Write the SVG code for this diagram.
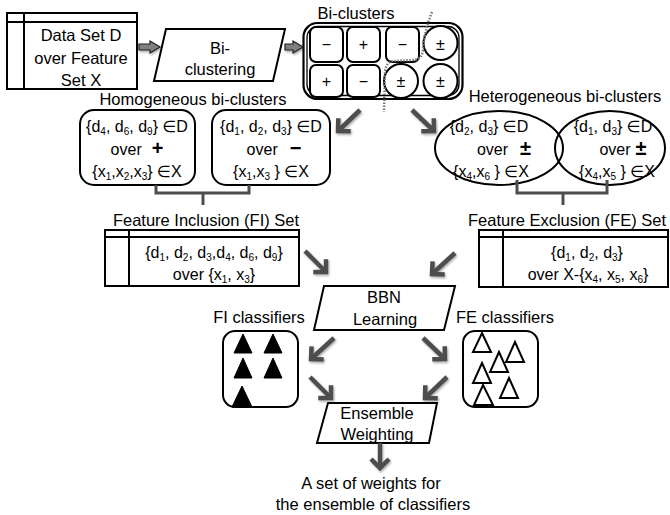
<svg xmlns="http://www.w3.org/2000/svg" width="670" height="515" viewBox="0 0 670 515">
<style>
text{font-family:"Liberation Sans",Arial,"DejaVu Sans",sans-serif;font-size:16px;fill:#000;text-anchor:middle}
.lbl{font-size:16.5px}
.s{font-size:10px}
.box{fill:#fff;stroke:#000;stroke-width:2}
.thin{fill:none;stroke:#000;stroke-width:2}
.arr{fill:none;stroke:#4d4d4d;stroke-width:4.5;marker-end:url(#chev)}
.brk{fill:none;stroke:#4d4d4d;stroke-width:3}
.blk{fill:#808080;stroke:#222;stroke-width:1.2}
.sym{font-size:20px;font-weight:bold}
.ftri{fill:#000;stroke:#000;stroke-width:1}
.otri{fill:#fff;stroke:#000;stroke-width:2}
</style>
<defs>
<marker id="chev" viewBox="-14 -14 28 28" markerWidth="28" markerHeight="28" refX="0" refY="0" orient="auto" markerUnits="userSpaceOnUse">
<path d="M-9,-9 L0,0 L-9,9" fill="none" stroke="#4d4d4d" stroke-width="4.5"/>
</marker>
<filter id="sh" x="-30%" y="-30%" width="160%" height="160%">
<feDropShadow dx="1" dy="1.5" stdDeviation="1.2" flood-color="#000" flood-opacity="0.35"/>
</filter>
</defs>

<g id="dataset">
<rect class="box" x="7" y="13" width="130" height="76"/>
<line class="thin" x1="7" y1="22" x2="137" y2="22"/>
<line class="thin" x1="24" y1="13" x2="24" y2="89"/>
<text class="lbl" x="81" y="41">Data Set D</text>
<text class="lbl" x="81" y="64">over Feature</text>
<text class="lbl" x="81" y="86">Set X</text>
</g>

<g id="biclustering">
<polygon class="box" points="166,29 285,29 273,81 154,81"/>
<text class="lbl" x="220" y="54">Bi-</text>
<text class="lbl" x="220" y="75">clustering</text>
</g>

<g id="biclusters">
<text class="lbl" x="356" y="19">Bi-clusters</text>
<rect x="303.5" y="23" width="159" height="76" rx="14" fill="#fff" stroke="#000" stroke-width="2.2"/>
<rect x="307" y="26.5" width="152" height="69" rx="11" fill="none" stroke="#000" stroke-width="1.3"/>
<rect class="box" x="310" y="27" width="33" height="35" rx="6"/>
<rect class="box" x="347" y="27" width="33" height="35" rx="6"/>
<rect class="box" x="386" y="27" width="33" height="35" rx="6"/>
<circle class="box" cx="440.5" cy="43" r="17"/>
<rect class="box" x="310" y="65" width="33" height="32" rx="6"/>
<rect class="box" x="347" y="65" width="33" height="32" rx="6"/>
<circle class="box" cx="401" cy="81" r="17"/>
<circle class="box" cx="440.5" cy="81" r="17"/>
<text x="326.5" y="50">−</text>
<text x="363.5" y="50">+</text>
<text x="402.5" y="50">−</text>
<text x="440.5" y="50">±</text>
<text x="326.5" y="87">+</text>
<text x="363.5" y="87">−</text>
<text x="401" y="87">±</text>
<text x="440.5" y="87">±</text>
<path d="M432,12 Q424,32 423,50 Q422,60 412,60 L393,61 Q386,62 385,72 L384,112" fill="none" stroke="#7a7a7a" stroke-width="2.5" stroke-dasharray="1.5,1.5"/>
</g>

<g id="homogeneous">
<text class="lbl" x="193" y="105">Homogeneous bi-clusters</text>
</g>

<g id="homog1">
<rect class="box" x="80" y="110" width="115" height="75" rx="14"/>
<text x="137" y="132">{d<tspan class="s" dy="3">4</tspan><tspan dy="-3">, d</tspan><tspan class="s" dy="3">6</tspan><tspan dy="-3">, d</tspan><tspan class="s" dy="3">9</tspan><tspan dy="-3">} ∈D</tspan></text>
<text x="137" y="155">over<tspan class="sym" dx="10">+</tspan></text>
<text x="137" y="177">{x<tspan class="s" dy="3">1</tspan><tspan dy="-3">,x</tspan><tspan class="s" dy="3">2</tspan><tspan dy="-3">,x</tspan><tspan class="s" dy="3">3</tspan><tspan dy="-3">} ∈X</tspan></text>
</g>

<g id="homog2">
<rect class="box" x="212" y="110" width="118" height="75" rx="14"/>
<text x="271" y="132">{d<tspan class="s" dy="3">1</tspan><tspan dy="-3">, d</tspan><tspan class="s" dy="3">2</tspan><tspan dy="-3">, d</tspan><tspan class="s" dy="3">3</tspan><tspan dy="-3">} ∈D</tspan></text>
<text x="274" y="155">over<tspan class="sym" dx="12">−</tspan></text>
<text x="271" y="177">{x<tspan class="s" dy="3">1</tspan><tspan dy="-3">,x</tspan><tspan class="s" dy="3">3</tspan><tspan dy="-3"> } ∈X</tspan></text>
</g>

<g id="heterogeneous">
<text class="lbl" x="565" y="102">Heterogeneous bi-clusters</text>
</g>

<g id="heter1">
<ellipse class="box" cx="499" cy="148" rx="64" ry="37"/>
<text x="489" y="132">{d<tspan class="s" dy="3">2</tspan><tspan dy="-3">, d</tspan><tspan class="s" dy="3">3</tspan><tspan dy="-3">} ∈D</tspan></text>
<text x="504" y="155">over<tspan class="sym" dx="12">±</tspan></text>
<text x="491" y="177">{x<tspan class="s" dy="3">4</tspan><tspan dy="-3">,x</tspan><tspan class="s" dy="3">6</tspan><tspan dy="-3"> } ∈X</tspan></text>
</g>

<g id="heter2">
<ellipse cx="610" cy="148" rx="55" ry="37" fill="none" stroke="#000" stroke-width="2"/>
<text x="613" y="132">{d<tspan class="s" dy="3">1</tspan><tspan dy="-3">, d</tspan><tspan class="s" dy="3">3</tspan><tspan dy="-3">} ∈D</tspan></text>
<text x="623" y="155">over<tspan class="sym" dx="5">±</tspan></text>
<text x="617" y="177">{x<tspan class="s" dy="3">4</tspan><tspan dy="-3">,x</tspan><tspan class="s" dy="3">5</tspan><tspan dy="-3"> } ∈X</tspan></text>
</g>

<g id="fiset">
<path class="brk" d="M156,185 V193 H249 V185 M203,193 V205"/>
<text class="lbl" x="206" y="226">Feature Inclusion (FI) Set</text>
<rect class="box" x="105" y="230" width="194" height="56"/>
<line class="thin" x1="105" y1="237" x2="299" y2="237"/>
<line class="thin" x1="129" y1="230" x2="129" y2="286"/>
<text x="214" y="258">{d<tspan class="s" dy="3">1</tspan><tspan dy="-3">, d</tspan><tspan class="s" dy="3">2</tspan><tspan dy="-3">, d</tspan><tspan class="s" dy="3">3</tspan><tspan dy="-3">,d</tspan><tspan class="s" dy="3">4</tspan><tspan dy="-3">, d</tspan><tspan class="s" dy="3">6</tspan><tspan dy="-3">, d</tspan><tspan class="s" dy="3">9</tspan><tspan dy="-3">}</tspan></text>
<text x="214" y="280">over {x<tspan class="s" dy="3">1</tspan><tspan dy="-3">, x</tspan><tspan class="s" dy="3">3</tspan><tspan dy="-3">}</tspan></text>
</g>

<g id="feset">
<path class="brk" d="M517,180 V193 H607 V180 M563,193 V205"/>
<text class="lbl" x="567" y="226">Feature Exclusion (FE) Set</text>
<rect class="box" x="479" y="230" width="189" height="57"/>
<line class="thin" x1="479" y1="237" x2="668" y2="237"/>
<line class="thin" x1="503" y1="230" x2="503" y2="287"/>
<text x="587" y="258">{d<tspan class="s" dy="3">1</tspan><tspan dy="-3">, d</tspan><tspan class="s" dy="3">2</tspan><tspan dy="-3">, d</tspan><tspan class="s" dy="3">3</tspan><tspan dy="-3">}</tspan></text>
<text x="588" y="280">over X-{x<tspan class="s" dy="3">4</tspan><tspan dy="-3">, x</tspan><tspan class="s" dy="3">5</tspan><tspan dy="-3">, x</tspan><tspan class="s" dy="3">6</tspan><tspan dy="-3">}</tspan></text>
</g>

<g id="bbn">
<polygon class="box" points="324,286 455,286 444,330 314,330"/>
<text class="lbl" x="384" y="303">BBN</text>
<text class="lbl" x="385" y="325">Learning</text>
</g>

<g id="ficlassifiers">
<text class="lbl" x="259" y="323">FI classifiers</text>
<rect class="box" x="223" y="331" width="75" height="76" rx="12"/>
<polygon class="ftri" points="243,334 252,353 234,353"/>
<polygon class="ftri" points="273,334 282,353 264,353"/>
<polygon class="ftri" points="243,358 252,378 234,378"/>
<polygon class="ftri" points="273,358 282,378 264,378"/>
<polygon class="ftri" points="242,386 252,407 232,407"/>
</g>

<g id="feclassifiers">
<text class="lbl" x="505" y="323">FE classifiers</text>
<rect class="box" x="463" y="331" width="75" height="76" rx="12"/>
<polygon class="otri" points="482,333 491,352 473,352"/>
<polygon class="otri" points="515,342 524,362 506,362"/>
<polygon class="otri" points="499,352 508,372 490,372"/>
<polygon class="otri" points="482,363 491,383 473,383"/>
<polygon class="otri" points="509,378 518,398 500,398"/>
<polygon class="otri" points="483,385 493,405 474,405"/>
</g>

<g id="ensemble">
<polygon class="box" points="328,403 437,403 429,443 317,443"/>
<text class="lbl" x="377" y="419">Ensemble</text>
<text class="lbl" x="377" y="440">Weighting</text>
</g>

<g id="output">
<text class="lbl" x="371" y="489">A set of weights for</text>
<text class="lbl" x="373" y="510">the ensemble of classifiers</text>
</g>

<g id="connectors" filter="url(#sh)">
<polygon class="blk" points="139,44 150,44 150,41 160,47 150,53 150,50 139,50"/>
<polygon class="blk" points="285,44 293,44 293,41 303,47 293,53 293,50 285,50"/>
<path class="arr" d="M360,110 L338,131"/>
<path class="arr" d="M412,110 L434,131"/>
<path class="arr" d="M305,251 L326,272"/>
<path class="arr" d="M455,253 L432,274"/>
<path class="arr" d="M334,338 L311,359"/>
<path class="arr" d="M423,338 L445,359"/>
<path class="arr" d="M310,377 L331,398"/>
<path class="arr" d="M447,377 L425,398"/>
<path class="arr" d="M380,443 L380,468"/>
</g>
</svg>
